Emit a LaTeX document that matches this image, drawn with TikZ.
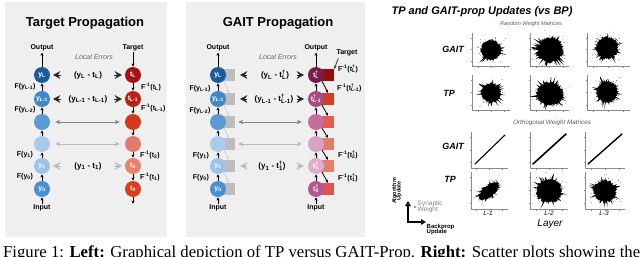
\documentclass[tikz,border=0pt]{standalone}
\usepackage{fontspec}
\usepackage{graphicx}
\setmainfont{Liberation Sans}
\newfontfamily\capfont{Liberation Serif}
\usetikzlibrary{arrows.meta,calc}
\definecolor{panel}{HTML}{EFEFEF}
\definecolor{notegray}{HTML}{666666}
\definecolor{bA}{HTML}{1D5B9C}\definecolor{bB}{HTML}{3F87C9}\definecolor{bC}{HTML}{5B9AD6}
\definecolor{bD}{HTML}{AACBEB}\definecolor{bE}{HTML}{9DC3E8}\definecolor{bF}{HTML}{4B8FD1}
\definecolor{rA}{HTML}{A31515}\definecolor{rB}{HTML}{BB2211}\definecolor{rC}{HTML}{D3391D}
\definecolor{rD}{HTML}{E27B6B}\definecolor{rE}{HTML}{E8826E}\definecolor{rF}{HTML}{D7401E}
\definecolor{pA}{HTML}{7B1B4B}\definecolor{pB}{HTML}{A9497F}\definecolor{pC}{HTML}{C16F9E}
\definecolor{pD}{HTML}{D9A2C2}\definecolor{pE}{HTML}{DFAECB}\definecolor{pF}{HTML}{B45790}
\definecolor{sA}{HTML}{8F0F0F}\definecolor{sB}{HTML}{D33D22}\definecolor{sC}{HTML}{E35B52}
\definecolor{sD}{HTML}{E27F69}\definecolor{sE}{HTML}{E27F69}\definecolor{sF}{HTML}{E25151}
\definecolor{gsq}{HTML}{BDBDBD}
\definecolor{axisgray}{HTML}{8A8A8A}
\newcommand\myfs[1]{\fontsize{#1}{#1}\selectfont}
\newcommand\supsub[2]{\rlap{\textsuperscript{#1}}\textsubscript{#2}}
% scatter blob: cx cy rx ry rot seed
\newcommand\scblob[6]{%
  \begin{scope}[shift={(#1,#2)},rotate=#5]
    \pgfmathsetseed{#6}
    \fill (#3*0.9,0) \foreach \t [evaluate=\t as \r using {0.8+0.2*rnd+0.6*(rnd>0.82)*rnd}] in {3,6,...,357} { -- ({#3*\r*cos(\t)},{#4*\r*sin(\t)}) } -- cycle;
    \fill \foreach \k in {1,...,160} { ({#3*1.15*(rnd+rnd-1)},{#4*1.15*(rnd+rnd-1)}) circle (0.35pt) };
    \fill \foreach \k in {1,...,40} { ({#3*1.55*(rnd+rnd-1)},{#4*1.55*(rnd+rnd-1)}) circle (0.3pt) };
  \end{scope}}
% axes: x0 x1 y0 y1
\newcommand\plotaxes[4]{%
  \draw[axisgray,line width=0.4pt] (#1,#3) -- (#1,#4) -- (#2,#4);
  \foreach \f in {0.15,0.5,0.85} {
    \draw[axisgray,line width=0.3pt] ({#1+(#2-#1)*\f},#4) -- ++(0,1.5);
    \draw[axisgray,line width=0.3pt] (#1,{#3+(#4-#3)*\f}) -- ++(-1.5,0);
  }}
\begin{document}
\begin{tikzpicture}[x=1pt,y=-1pt,
  nd/.style={circle,minimum size=16pt,inner sep=0pt,text=white,font=\bfseries\myfs{7}},
  sqr/.style={rectangle,minimum size=12pt,inner sep=0pt},
  lbl/.style={font=\bfseries\myfs{7},inner sep=1pt},
  err/.style={font=\bfseries\myfs{8},inner sep=1pt},
  note/.style={font=\itshape\myfs{7},text=notegray,inner sep=1pt},
  ptitle/.style={font=\bfseries\myfs{13},inner sep=1pt},
  fw/.style={-{Stealth[length=3pt,width=3.2pt]},line width=0.7pt,black,shorten >=0.3pt},
  chev/.style={-{Stealth[length=7pt,width=7.5pt,inset=2.5pt]},line width=0.1pt},
  dbl/.style={{Stealth[length=5pt,width=4.5pt]}-{Stealth[length=5pt,width=4.5pt]},line width=1pt},
  diag/.style={-{Stealth[length=3pt,width=3pt]},line width=0.8pt},
  faint/.style={draw=gray!35},
  rowl/.style={font=\bfseries\itshape\myfs{9},inner sep=1pt},
  lgd/.style={font=\bfseries\myfs{5.5},inner sep=0.5pt,align=center},
  lgarrow/.style={-{Triangle[open,length=5pt,width=5.5pt]},line width=1.3pt}
]
\useasboundingbox (0,0) rectangle (640,257);
\clip (0,0) rectangle (640,257);
% panels
\fill[panel] (5,2) rectangle (167,237);
\fill[panel] (186,2) rectangle (365,237);

% ===================== Target Propagation =====================
\node[ptitle] (titA) at (85,23) {Target Propagation};
\node[note] (leA) at (94,57) {Local Errors};
\node[nd,fill=bA] (a1) at (42,75) {y\textsubscript{L}};
\node[nd,fill=bB] (a2) at (42,99) {y\textsubscript{L-1}};
\node[nd,fill=bC] (a3) at (42,122) {};
\node[nd,fill=bD] (a4) at (42,144) {};
\node[nd,fill=bE] (a5) at (42,166) {y\textsubscript{1}};
\node[nd,fill=bF] (a6) at (42,189) {y\textsubscript{0}};
\node[nd,fill=rA] (b1) at (133,75) {t\textsubscript{L}};
\node[nd,fill=rB] (b2) at (133,99) {t\textsubscript{L-1}};
\node[nd,fill=rC] (b3) at (133,122) {};
\node[nd,fill=rD] (b4) at (133,144) {};
\node[nd,fill=rE] (b5) at (133,166) {t\textsubscript{1}};
\node[nd,fill=rF] (b6) at (133,189) {t\textsubscript{0}};
\node[lbl] (outA) at (42,48) {Output};
\node[lbl] (inA) at (42,208) {Input};
\node[lbl] (tgA) at (133,48) {Target};
\coordinate (endA) at (133,204);
\draw[fw] (a1.north) -- (outA.south);
\draw[fw] (inA.north) -- (a6.south);
\draw[fw] (tgA.south) -- (b1.north);
\draw[fw] (b6.south) -- (endA);
\foreach \i/\j in {2/1,3/2,4/3,5/4,6/5} {
  \draw[fw] (a\i.north) -- (a\j.south);
  \draw[fw] (b\j.south) -- (b\i.north);
}
\node[lbl] (fa1) at (25,87) {F(y\textsubscript{L-1})};
\node[lbl] (fa2) at (25,110) {F(y\textsubscript{L-2})};
\node[lbl] (fa4) at (25,155) {F(y\textsubscript{1})};
\node[lbl] (fa5) at (25,177) {F(y\textsubscript{0})};
\node[lbl,anchor=west] (fb1) at (140,87) {F\textsuperscript{-1}(t\textsubscript{L})};
\node[lbl,anchor=west] (fb2) at (140,108) {F\textsuperscript{-1}(t\textsubscript{L-1})};
\node[lbl,anchor=west] (fb4) at (139,155) {F\textsuperscript{-1}(t\textsubscript{2})};
\node[lbl,anchor=west] (fb5) at (139,177) {F\textsuperscript{-1}(t\textsubscript{1})};
\node[err] (eA1) at (88,75) {(y\textsubscript{L} - t\textsubscript{L})};
\node[err] (eA2) at (88,99) {(y\textsubscript{L-1} - t\textsubscript{L-1})};
\node[err] (eA5) at (88,166) {(y\textsubscript{1} - t\textsubscript{1})};
\foreach \i/\c in {1/black!85,2/black!85,5/gray!55} {
  \draw[chev,\c] ($(a\i.east)+(11,0)$) -- ($(a\i.east)+(3,0)$);
  \draw[chev,\c] ($(b\i.west)+(-11,0)$) -- ($(b\i.west)+(-3,0)$);
}
\draw[dbl,gray!95] ($(a3.east)+(5,0)$) -- ($(b3.west)+(-5,0)$);
\draw[dbl,gray!55] ($(a4.east)+(5,0)$) -- ($(b4.west)+(-5,0)$);

% ===================== GAIT Propagation =====================
\node[ptitle] (titB) at (278,23) {GAIT Propagation};
\node[note] (leB) at (278,57) {Local Errors};
\foreach \i/\yy in {1/75,2/99,3/122,4/144,5/166,6/189} {
  \node[sqr,fill=gsq] (cs\i) at (229,\yy) {};
}
\node[sqr,fill=sA] (ds1) at (328,75) {};
\node[sqr,fill=sB] (ds2) at (328,99) {};
\node[sqr,fill=sC] (ds3) at (328,122) {};
\node[sqr,fill=sD] (ds4) at (328,144) {};
\node[sqr,fill=sE] (ds5) at (328,166) {};
\node[sqr,fill=sF] (ds6) at (328,189) {};
\node[nd,fill=bA] (c1) at (218,75) {y\textsubscript{L}};
\node[nd,fill=bB] (c2) at (218,99) {y\textsubscript{L-1}};
\node[nd,fill=bC] (c3) at (218,122) {};
\node[nd,fill=bD] (c4) at (218,144) {};
\node[nd,fill=bE] (c5) at (218,166) {y\textsubscript{1}};
\node[nd,fill=bF] (c6) at (218,189) {y\textsubscript{0}};
\node[nd,fill=pA] (d1) at (316,75) {t\supsub{\textdagger}{L}};
\node[nd,fill=pB] (d2) at (316,99) {t\supsub{\textdagger}{L-1}};
\node[nd,fill=pC] (d3) at (316,122) {};
\node[nd,fill=pD] (d4) at (316,144) {};
\node[nd,fill=pE] (d5) at (316,166) {t\supsub{\textdagger}{1}};
\node[nd,fill=pF] (d6) at (316,189) {t\supsub{\textdagger}{0}};
\node[lbl] (outB) at (218,48) {Output};
\node[lbl] (inB) at (218,208) {Input};
\node[lbl] (outC) at (316,48) {Output};
\node[lbl] (inC) at (316,208) {Input};
\node[lbl] (tgB) at (347,53) {Target};
\draw[fw] (c1.north) -- (outB.south);
\draw[fw] (inB.north) -- (c6.south);
\draw[fw] (d1.north) -- (outC.south);
\draw[fw] (inC.north) -- (d6.south);
\draw[diag,black!80] ($(tgB.south west)+(3,1)$) -- (ds1.north east);
\foreach \i/\j in {2/1,3/2,4/3,5/4,6/5} {
  \draw[fw] (c\i.north) -- (c\j.south);
  \draw[fw] (d\i.north) -- (d\j.south);
  \draw[diag,faint] (c\j.south east) -- (cs\i.north);
  \draw[diag] (d\j.south east) -- (ds\i.north);
}
\node[lbl] (fc1) at (200,89) {F(y\textsubscript{L-1})};
\node[lbl] (fc2) at (200,111) {F(y\textsubscript{L-2})};
\node[lbl] (fc4) at (201,156) {F(y\textsubscript{1})};
\node[lbl] (fc5) at (201,178) {F(y\textsubscript{0})};
\node[lbl,anchor=west] (fd0) at (337,69) {F\textsuperscript{-1}(t\supsub{\textdagger}{L})};
\node[lbl,anchor=west] (fd1) at (336,88) {F\textsuperscript{-1}(t\supsub{\textdagger}{L-1})};
\node[lbl,anchor=west] (fd4) at (337,155) {F\textsuperscript{-1}(t\supsub{\textdagger}{2})};
\node[lbl,anchor=west] (fd5) at (337,178) {F\textsuperscript{-1}(t\supsub{\textdagger}{1})};
\node[err] (eB1) at (275,75) {(y\textsubscript{L} - t\supsub{\textdagger}{L})};
\node[err] (eB2) at (274,99) {(y\textsubscript{L-1} - t\supsub{\textdagger}{L-1})};
\node[err] (eB5) at (272,166) {(y\textsubscript{1} - t\supsub{\textdagger}{1})};
\foreach \i/\c in {1/black!85,2/black!85,5/gray!55} {
  \draw[chev,\c] ($(cs\i.east)+(12,0)$) -- ($(cs\i.east)+(5,0)$);
  \draw[chev,\c] ($(d\i.west)+(-11,0)$) -- ($(d\i.west)+(-4,0)$);
}
\draw[dbl,gray!95] ($(cs3.east)+(3,0)$) -- ($(d3.west)+(-6,0)$);
\draw[dbl,gray!55] ($(cs4.east)+(3,0)$) -- ($(d4.west)+(-6,0)$);

% ===================== Scatter plots =====================
\node[font=\bfseries\itshape\myfs{11},inner sep=1pt] (rt) at (482,12) {TP and GAIT-prop Updates (vs BP)};
\node[font=\itshape\myfs{5.5},text=black!65,inner sep=1pt] (rwm) at (531,24) {Random Weight Matrices};
\node[font=\itshape\myfs{6.3},text=black!65,inner sep=1pt] (owm) at (552,123) {Orthogonal Weight Matrices};
\node[rowl] (rg1) at (453,49) {GAIT};
\node[rowl] (rt1) at (449,93) {TP};
\node[rowl] (rg2) at (453,146) {GAIT};
\node[rowl] (rt2) at (450,179) {TP};
\node[font=\itshape\myfs{6.5},inner sep=1pt] (l1) at (488,213) {L-1};
\node[font=\itshape\myfs{6.5},inner sep=1pt] (l2) at (549,213) {L-2};
\node[font=\itshape\myfs{6.5},inner sep=1pt] (l3) at (604,213) {L-3};
\node[font=\itshape\myfs{10},inner sep=1pt] (lay) at (550,224) {Layer};

\plotaxes{472}{510}{33}{66}
\plotaxes{530}{569}{33}{66}
\plotaxes{587}{630}{33}{66}
\plotaxes{472}{510}{75}{110}
\plotaxes{530}{569}{75}{110}
\plotaxes{587}{630}{75}{110}
\plotaxes{471}{508}{132}{168}
\plotaxes{530}{568}{132}{168}
\plotaxes{585}{625}{132}{168}
\plotaxes{471}{508}{172}{209}
\plotaxes{530}{568}{172}{209}
\plotaxes{585}{625}{172}{209}

\scblob{491}{50}{11}{11}{0}{11}
\scblob{550}{50}{14}{13.5}{0}{12}
\scblob{607}{48}{12}{12}{0}{13}
\scblob{491}{93}{10.5}{10.5}{0}{14}
\scblob{550}{94}{14.5}{12.5}{0}{15}
\scblob{607}{92}{11.5}{11.5}{0}{16}
\scblob{489}{191}{13}{6}{40}{17}
\scblob{549}{191}{14}{13}{0}{18}
\scblob{605}{191}{12}{12}{0}{19}
\draw[line width=1.1pt,line cap=round] (475,164) -- (505,135);
\draw[line width=1.6pt,line cap=round] (533,164) -- (566,134);
\draw[line width=1.4pt,line cap=round] (588,164) -- (622,134);

% legend
\node[lgd,rotate=90] (algo) at (397,191) {Algorithm\\[-1pt]Update};
\coordinate (org) at (408,222);
\coordinate (lgUp) at (408,201);
\coordinate (lgRt) at (426,222);
\draw[lgarrow] (org) -- (lgUp);
\draw[lgarrow] ([xshift=-0.65pt]org) -- (lgRt);
\node[circle,fill=gray,inner sep=0.8pt] (syn) at (415,207) {};
\node[font=\myfs{6.5},text=gray,anchor=west,align=left,inner sep=0.5pt] (synt) at (417,207) {Synaptic\\[-0.5pt]Weight};
\node[font=\bfseries\myfs{6},anchor=west,align=left,inner sep=0.5pt] (bpu) at (426,229.5) {Backprop\\[-0.5pt]Update};

% caption
\node[anchor=base west,inner sep=0pt] (cap) at (3,257.5) {\resizebox{637pt}{!}{\capfont\myfs{14}Figure 1: \textbf{Left:} Graphical depiction of TP versus GAIT-Prop. \textbf{Right:} Scatter plots showing the}};
\end{tikzpicture}
\end{document}
